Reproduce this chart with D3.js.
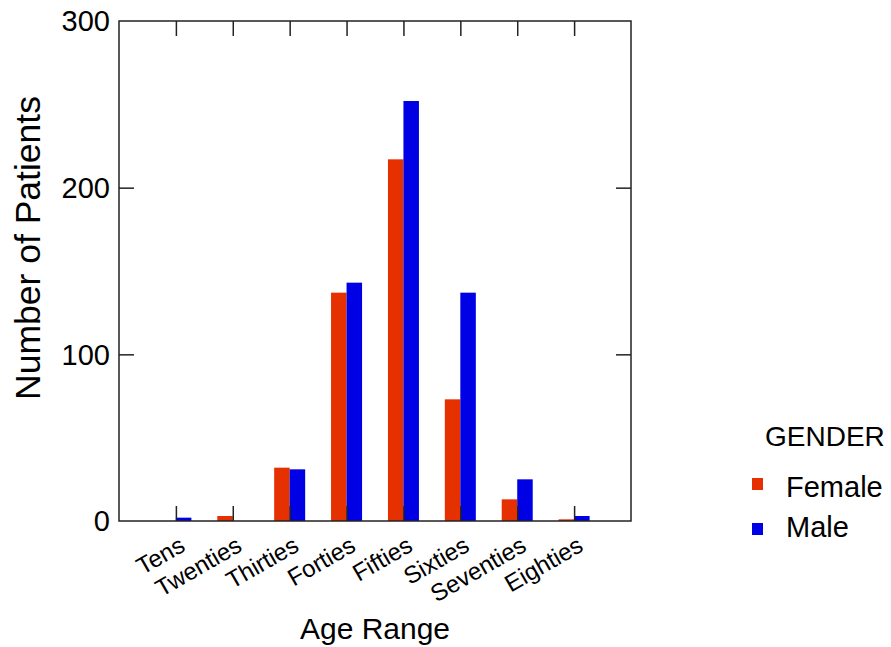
<!DOCTYPE html>
<html lang="en">
<head>
    <meta charset="UTF-8">
    <script src="https://cdn.jsdelivr.net/npm/d3@7"></script>
    <title>Patients by Age Range</title>
    <style>
        body { margin: 0; background: #fff; }
        text { font-family: "Liberation Sans", Arial, sans-serif; fill: #000; }
    </style>
</head>
<body>
    <div id="chart"></div>
    <script>
        const ageRanges = ["Tens", "Twenties", "Thirties", "Forties", "Fifties", "Sixties", "Seventies", "Eighties"];
        const genders = ["Female", "Male"];
        const female = [0, 3, 32, 137, 217, 73, 13, 1];
        const male = [2, 0, 31, 143, 252, 137, 25, 3];
        const yTicks = [0, 100, 200, 300];
        const colors = ["#e53000", "#0000e5"];

        const margin = { top: 21, right: 260, bottom: 126, left: 119 },
            width = 891 - margin.left - margin.right,
            height = 647 - margin.top - margin.bottom;

        const svg = d3.select("#chart")
            .append("svg")
            .attr("width", 891)
            .attr("height", 647);

        const g = svg.append("g")
            .attr("transform", `translate(${margin.left},${margin.top})`);

        const x = d3.scalePoint()
            .domain(ageRanges)
            .range([0, width])
            .padding(1);

        const y = d3.scaleLinear()
            .domain([0, 300])
            .range([height, 0]);

        const barW = 15.5;
        const series = [female, male];

        // bars
        series.forEach((vals, si) => {
            g.selectAll(".bar" + si)
                .data(ageRanges)
                .join("rect")
                .attr("class", "bar" + si)
                .attr("x", d => x(d) - barW + si * barW)
                .attr("y", (d, i) => y(vals[i]))
                .attr("width", barW)
                .attr("height", (d, i) => height - y(vals[i]))
                .attr("fill", colors[si]);
        });

        // frame with inward ticks
        const tickLen = 15;
        const stroke = "#222";
        g.append("g")
            .call(d3.axisBottom(x).tickSize(-tickLen).tickFormat(""))
            .attr("transform", `translate(0,${height})`)
            .call(a => a.select(".domain").remove());
        g.append("g")
            .call(d3.axisTop(x).tickSize(-tickLen).tickFormat(""))
            .call(a => a.select(".domain").remove());
        g.append("g")
            .call(d3.axisLeft(y).tickValues(yTicks.slice(1, 3)).tickSize(-tickLen).tickFormat(""))
            .call(a => a.select(".domain").remove());
        g.append("g")
            .attr("transform", `translate(${width},0)`)
            .call(d3.axisRight(y).tickValues(yTicks.slice(1, 3)).tickSize(-tickLen).tickFormat(""))
            .call(a => a.select(".domain").remove());
        g.selectAll(".tick line").attr("stroke", stroke).attr("stroke-width", 1.5);

        g.append("rect")
            .attr("width", width)
            .attr("height", height)
            .attr("fill", "none")
            .attr("stroke", stroke)
            .attr("stroke-width", 1.5);

        // y tick labels
        g.selectAll(".ylab")
            .data(yTicks)
            .join("text")
            .attr("class", "ylab")
            .attr("x", -9)
            .attr("y", d => y(d))
            .attr("dy", "0.36em")
            .attr("text-anchor", "end")
            .style("font-size", "29px")
            .text(d => d);

        // x tick labels
        g.selectAll(".xlab")
            .data(ageRanges)
            .join("text")
            .attr("class", "xlab")
            .attr("text-anchor", "end")
            .attr("transform", d => `translate(${x(d) + 2},${height + 14}) rotate(-30)`)
            .attr("dy", "0.72em")
            .style("font-size", "24px")
            .text(d => d);

        // axis titles
        svg.append("text")
            .attr("x", margin.left + width / 2)
            .attr("y", 639)
            .attr("text-anchor", "middle")
            .style("font-size", "30px")
            .text("Age Range");

        svg.append("text")
            .attr("transform", "translate(40,248) rotate(-90)")
            .attr("text-anchor", "middle")
            .style("font-size", "35.5px")
            .text("Number of Patients");

        // legend
        const legend = svg.append("g").attr("transform", "translate(752,0)");
        legend.append("text")
            .attr("x", 13)
            .attr("y", 446)
            .style("font-size", "28px")
            .text("GENDER");
        genders.forEach((gname, i) => {
            legend.append("rect")
                .attr("x", 0)
                .attr("y", 478 + i * 45)
                .attr("width", 11)
                .attr("height", 12)
                .attr("fill", colors[i]);
            legend.append("text")
                .attr("x", 34)
                .attr("y", 497 + i * 40)
                .style("font-size", "29px")
                .text(gname);
        });
    </script>
</body>
</html>
